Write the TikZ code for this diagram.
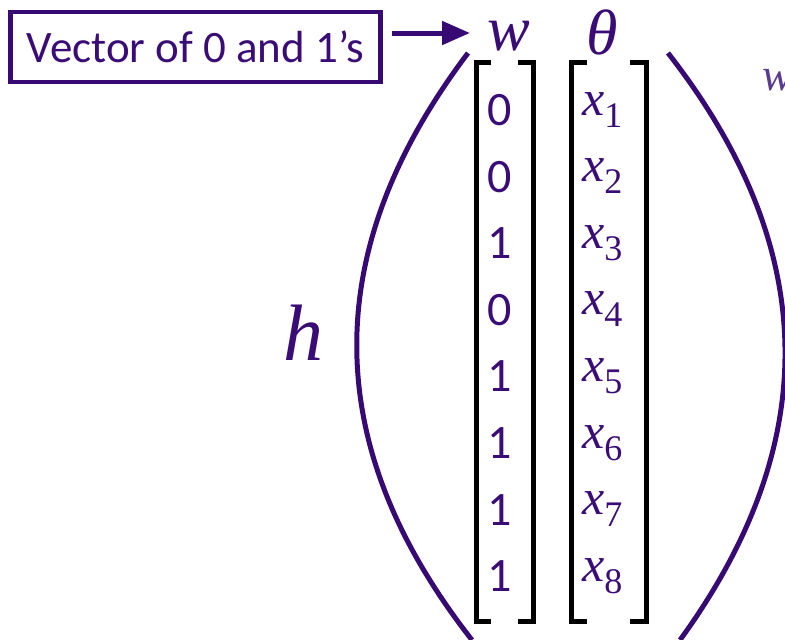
\documentclass[tikz,border=0pt]{standalone}
\usepackage{fontspec}
\setmainfont{Liberation Serif}
\newfontfamily\carl{Carlito}
\usetikzlibrary{arrows.meta}
\definecolor{uwpurple}{RGB}{55,10,115}
\definecolor{txtpurple}{RGB}{58,12,118}
\definecolor{paleviolet}{RGB}{90,60,140}
\tikzset{
  brk/.style={draw=black, line width=5pt, line join=miter},
  paren/.style={draw=uwpurple, line width=5pt},
  digit/.style={text=txtpurple, inner sep=0pt, font=\carl\fontsize{48}{48}\selectfont},
  xvar/.style={text=txtpurple, inner sep=0pt, anchor=base west, font=\itshape\fontsize{50}{50}\selectfont},
  biglab/.style={text=txtpurple, inner sep=0pt, anchor=base west, font=\itshape\fontsize{64}{64}\selectfont},
}
\begin{document}
\begin{tikzpicture}[x=1pt,y=-1pt]
\useasboundingbox (0,0) rectangle (785,640);
\clip (0,0) rectangle (785,640);

% label box
\node[draw=uwpurple, line width=4.5pt, minimum width=370pt, minimum height=70pt, inner sep=0pt,
      text=txtpurple, font=\carl\fontsize{45}{45}\selectfont] (vbox) at (195.5,47) {Vector of 0 and 1’s};

% w and theta
\node[biglab] (wlab) at (487,50) {w};
\node[biglab] (thlab) at (586,54) {θ};

% arrow
\coordinate (atail) at (392,33);
\coordinate (ahead) at (470,33);
\draw[uwpurple, line width=5pt, -{Triangle[length=28pt,width=23pt]}] (atail) -- (ahead);

% brackets
\draw[brk] (491,62) -- (476,62) -- (476,621) -- (491,621);
\draw[brk] (518,62) -- (533,62) -- (533,621) -- (518,621);
\draw[brk] (587,62) -- (571,62) -- (571,621) -- (587,621);
\draw[brk] (630,62) -- (646,62) -- (646,621) -- (630,621);

% entries
\foreach \v [count=\i] in {0,0,1,0,1,1,1,1} {
  \pgfmathsetmacro{\yy}{110+66.6*(\i-1)}
  \node[digit] (d\i) at (499.5,\yy) {\v};
  \node[xvar] (x\i) at (582,\yy+5) {\itshape x\raisebox{-12pt}{\upshape\fontsize{36}{36}\selectfont\i}};
}

% big parentheses
\draw[paren] (468,53) .. controls (319,250) and (319,445) .. (472,640);
\draw[paren] (668,53) .. controls (822,250) and (822,445) .. (680,640);

% h
\node[text=txtpurple, inner sep=0pt, anchor=base west, font=\itshape\fontsize{80}{80}\selectfont] (hlab) at (283,360) {h};

% cut-off w on the right
\node[text=paleviolet, inner sep=0pt, anchor=base west, font=\itshape\fontsize{46}{46}\selectfont] (wright) at (762,90) {w};
\end{tikzpicture}
\end{document}
